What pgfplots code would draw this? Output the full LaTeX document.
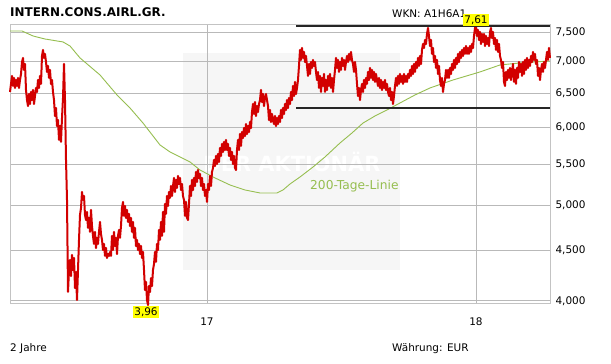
\documentclass[border=0pt]{standalone}
\usepackage{fontspec}
\setmainfont{DejaVu Sans}
\usepackage{pgfplots}
\pgfplotsset{compat=1.18}
\definecolor{pricered}{RGB}{210,0,0}
\definecolor{malinegreen}{RGB}{150,190,80}
\definecolor{gridgray}{RGB}{185,185,185}
\definecolor{framegray}{RGB}{195,195,195}
\definecolor{wmgray}{RGB}{246,246,246}
\definecolor{labelyellow}{RGB}{255,255,0}
\begin{document}
\begin{tikzpicture}
\begin{axis}[
  at={(10bp,60bp)}, anchor=south west,
  scale only axis, width=540bp, height=279bp,
  xmin=0, xmax=540,
  ymode=log, ymin=3972, ymax=7623,
  xtick={197,466}, xticklabels={17,18},
  ytick={4000,4500,5000,5500,6000,6500,7000,7500},
  yticklabels={{4,000},{4,500},{5,000},{5,500},{6,000},{6,500},{7,000},{7,500}},
  yticklabel pos=right,
  xmajorgrids=true, ymajorgrids=true,
  major grid style={draw=gridgray, line width=0.9bp},
  axis line style={framegray, line width=1bp},
  major tick length=0pt,
  tick label style={font=\fontsize{10.5}{12}\selectfont, text=black},
  yticklabel style={xshift=2bp},
  xticklabel style={yshift=-10bp},
  set layers=standard,
  clip=false,
]
\begin{pgfonlayer}{axis background}
\fill[white] (rel axis cs:-0.02,-0.3) rectangle (rel axis cs:1.12,1.2);
\fill[wmgray] (axis cs:173,4300) rectangle (axis cs:390,7141);
\node[text=white, font=\bfseries\fontsize{21}{21}\selectfont] at (axis cs:282,5535) {DER AKTIONÄR};
\end{pgfonlayer}
% 200-day moving average
\addplot[malinegreen, line width=0.9bp] coordinates {
(0,7517)(12,7517)(23,7430)(35,7378)(53,7327)(60,7258)(70,7058)(90,6783)(107,6473)(120,6279)
(133,6062)(150,5759)(160,5666)(170,5600)(180,5535)(190,5432)(205,5332)(220,5245)(235,5184)(250,5148)
(267,5148)(273,5184)(280,5257)(290,5344)(303,5470)(315,5600)(330,5786)(342,5923)(353,6062)(365,6163)
(377,6250)(390,6353)(405,6473)(420,6580)(443,6704)(470,6831)(490,6943)(510,6976)(540,7009)
};
% price
\addplot[pricered, line width=2bp, line join=round] coordinates {
(0,6519)(1,6642)(2,6767)(3,6611)(4,6736)(5,6580)(6,6704)(7,6611)(8,6736)(9,6580)
(10,6704)(11,6799)(12,6992)(13,7058)(14,6863)(15,6959)(16,6549)(17,6397)(18,6308)(19,6488)
(20,6338)(21,6519)(22,6397)(23,6549)(24,6338)(25,6458)(26,6580)(27,6519)(28,6704)(29,6580)
(30,6767)(31,6642)(32,7091)(33,7191)(34,7058)(35,7125)(36,6992)(37,6831)(38,6927)(39,6736)
(40,6863)(41,6642)(42,6704)(43,6519)(44,6397)(45,6163)(46,6279)(47,6020)(48,6105)(49,5827)
(50,6020)(51,5800)(52,6134)(53,6427)(54,6959)(55,6397)(56,5561)(57,5065)(58,4085)(59,4300)
(60,4402)(61,4240)(62,4454)(63,4300)(64,4423)(65,4123)(66,4280)(67,4009)(68,4300)(69,4613)
(70,4890)(71,4971)(72,5160)(73,5065)(74,5112)(75,4890)(76,4833)(77,4925)(78,4744)(79,4856)
(80,4700)(81,4948)(82,4766)(83,4656)(84,4570)(85,4700)(86,4527)(87,4635)(88,4570)(89,4700)
(90,4811)(91,4678)(92,4613)(93,4506)(94,4570)(95,4444)(96,4527)(97,4423)(98,4464)(99,4444)
(100,4485)(101,4444)(102,4656)(103,4506)(104,4700)(105,4548)(106,4635)(107,4464)(108,4656)(109,4722)
(110,4635)(111,4766)(112,4971)(113,5041)(114,4879)(115,4994)(116,4856)(117,4948)(118,4811)(119,4902)
(120,4766)(121,4856)(122,4700)(123,4811)(124,4635)(125,4744)(126,4548)(127,4613)(128,4506)(129,4570)
(130,4464)(131,4548)(132,4423)(133,4485)(134,4300)(135,4104)(136,4181)(137,4009)(138,3963)(139,4142)
(140,4085)(141,4220)(142,4142)(143,4300)(144,4361)(145,4485)(146,4382)(147,4570)(148,4506)(149,4722)
(150,4613)(151,4811)(152,4656)(153,4925)(154,4700)(155,5018)(156,4902)(157,5112)(158,4994)(159,5160)
(160,5089)(161,5233)(162,5112)(163,5233)(164,5332)(165,5160)(166,5307)(167,5209)(168,5357)(169,5257)
(170,5332)(171,5184)(172,5257)(173,5112)(174,5065)(175,4879)(176,5041)(177,4856)(178,4833)(179,5018)
(180,5233)(181,5112)(182,5307)(183,5184)(184,5332)(185,5233)(186,5407)(187,5282)(188,5432)(189,5332)
(190,5382)(191,5233)(192,5332)(193,5184)(194,5257)(195,5112)(196,5184)(197,5041)(198,5257)(199,5184)
(200,5357)(201,5233)(202,5407)(203,5458)(204,5561)(205,5483)(206,5613)(207,5509)(208,5639)(209,5535)
(210,5719)(211,5613)(212,5773)(213,5666)(214,5800)(215,5692)(216,5827)(217,5692)(218,5773)(219,5613)
(220,5719)(221,5561)(222,5666)(223,5509)(224,5613)(225,5458)(226,5432)(227,5692)(228,5827)(229,5692)
(230,5909)(231,5746)(232,5936)(233,5854)(234,5992)(235,5881)(236,6048)(237,5909)(238,6020)(239,5936)
(240,6077)(241,5992)(242,6221)(243,6338)(244,6192)(245,6367)(246,6163)(247,6308)(248,6221)(249,6338)
(250,6397)(251,6549)(252,6367)(253,6488)(254,6308)(255,6427)(256,6488)(257,6397)(258,6308)(259,6105)
(260,6250)(261,6077)(262,6192)(263,6105)(264,6048)(265,6163)(266,6020)(267,6134)(268,6048)(269,6163)
(270,6077)(271,6250)(272,6134)(273,6279)(274,6192)(275,6338)(276,6250)(277,6397)(278,6279)(279,6427)
(280,6338)(281,6519)(282,6397)(283,6611)(284,6458)(285,6673)(286,6488)(287,6580)(288,6704)(289,6927)
(290,7191)(291,7025)(292,7224)(293,7058)(294,7158)(295,6992)(296,7091)(297,6927)(298,6767)(299,6959)
(300,6799)(301,6992)(302,6895)(303,7025)(304,6927)(305,6992)(306,6831)(307,6704)(308,6831)(309,6580)
(310,6767)(311,6519)(312,6736)(313,6611)(314,6799)(315,6519)(316,6704)(317,6549)(318,6767)(319,6611)
(320,6799)(321,6580)(322,6736)(323,6519)(324,6704)(325,6863)(326,7058)(327,6895)(328,7025)(329,6831)
(330,6992)(331,6863)(332,7058)(333,6927)(334,7025)(335,6863)(336,6992)(337,7091)(338,6992)(339,7125)
(340,7025)(341,7158)(342,7025)(343,6959)(344,6831)(345,6992)(346,6863)(347,6642)(348,6458)(349,6580)
(350,6397)(351,6549)(352,6642)(353,6519)(354,6704)(355,6580)(356,6736)(357,6642)(358,6831)(359,6704)
(360,6895)(361,6736)(362,6863)(363,6704)(364,6831)(365,6673)(366,6799)(367,6704)(368,6611)(369,6736)
(370,6580)(371,6704)(372,6549)(373,6673)(374,6580)(375,6704)(376,6549)(377,6642)(378,6519)(379,6458)
(380,6580)(381,6397)(382,6519)(383,6338)(384,6458)(385,6611)(386,6736)(387,6611)(388,6767)(389,6642)
(390,6799)(391,6673)(392,6767)(393,6642)(394,6799)(395,6673)(396,6767)(397,6673)(398,6799)(399,6736)
(400,6863)(401,6767)(402,6927)(403,6799)(404,6959)(405,6831)(406,6992)(407,6895)(408,7058)(409,6927)
(410,7091)(411,6959)(412,7191)(413,7292)(414,7224)(415,7361)(416,7292)(417,7465)(418,7570)(419,7430)
(420,7258)(421,7361)(422,7125)(423,7224)(424,6992)(425,7091)(426,6895)(427,7025)(428,6799)(429,6927)
(430,6704)(431,6611)(432,6736)(433,6519)(434,6642)(435,6704)(436,6863)(437,6736)(438,6863)(439,6736)
(440,6895)(441,6799)(442,6959)(443,6863)(444,7025)(445,6895)(446,7058)(447,6959)(448,7125)(449,6992)
(450,7158)(451,7058)(452,7191)(453,7091)(454,7224)(455,7125)(456,7258)(457,7125)(458,7224)(459,7125)
(460,7258)(461,7158)(462,7292)(463,7224)(464,7430)(465,7570)(466,7606)(467,7430)(468,7535)(469,7361)
(470,7500)(471,7292)(472,7465)(473,7327)(474,7465)(475,7258)(476,7430)(477,7292)(478,7395)(479,7258)
(480,7500)(481,7570)(482,7395)(483,7500)(484,7292)(485,7395)(486,7191)(487,7361)(488,7158)(489,7292)
(490,7091)(491,7025)(492,6895)(493,6992)(494,6673)(495,6611)(496,6831)(497,6704)(498,6863)(499,6736)
(500,6895)(501,6704)(502,6831)(503,6959)(504,6673)(505,6863)(506,6642)(507,6895)(508,6736)(509,6992)
(510,6831)(511,6959)(512,6767)(513,6992)(514,6799)(515,7025)(516,6863)(517,7058)(518,6895)(519,7025)
(520,6927)(521,7091)(522,6992)(523,7158)(524,7025)(525,7125)(526,6959)(527,7025)(528,6767)(529,6895)
(530,6704)(531,6863)(532,6959)(533,6831)(534,6992)(535,6895)(536,7025)(537,7158)(538,7025)(539,7224)
(540,7058)
};
% resistance / support lines
\addplot[black!85, line width=2.4bp] coordinates {(286,7610) (540,7610)};
\addplot[black!85, line width=2.4bp] coordinates {(286,6280) (540,6280)};
\end{axis}
\node[anchor=base west, inner sep=0, font=\bfseries\fontsize{12}{14}\selectfont] at (10bp,347.3bp) {INTERN.CONS.AIRL.GR.};
\node[anchor=base west, inner sep=0, font=\fontsize{10.5}{12}\selectfont] at (392bp,346.7bp) {WKN: A1H6A1};
\node[fill=labelyellow, inner sep=0, minimum width=26bp, minimum height=11.5bp, font=\fontsize{10.5}{12}\selectfont] at (476bp,344bp) {7,61};
\node[fill=labelyellow, inner sep=0, minimum width=26bp, minimum height=12bp, font=\fontsize{10.5}{12}\selectfont] at (146bp,52bp) {3,96};
\node[anchor=base west, inner sep=0, font=\fontsize{12.3}{14}\selectfont, text=malinegreen] at (310bp,174bp) {200-Tage-Linie};
\node[anchor=base west, inner sep=0, font=\fontsize{10.5}{12}\selectfont] at (10bp,13bp) {2 Jahre};
\node[anchor=base west, inner sep=0, font=\fontsize{10.5}{12}\selectfont] at (392bp,13bp) {Währung: EUR};
\pgfresetboundingbox
\useasboundingbox (0,0) rectangle (611bp,364bp);
\end{tikzpicture}
\end{document}
